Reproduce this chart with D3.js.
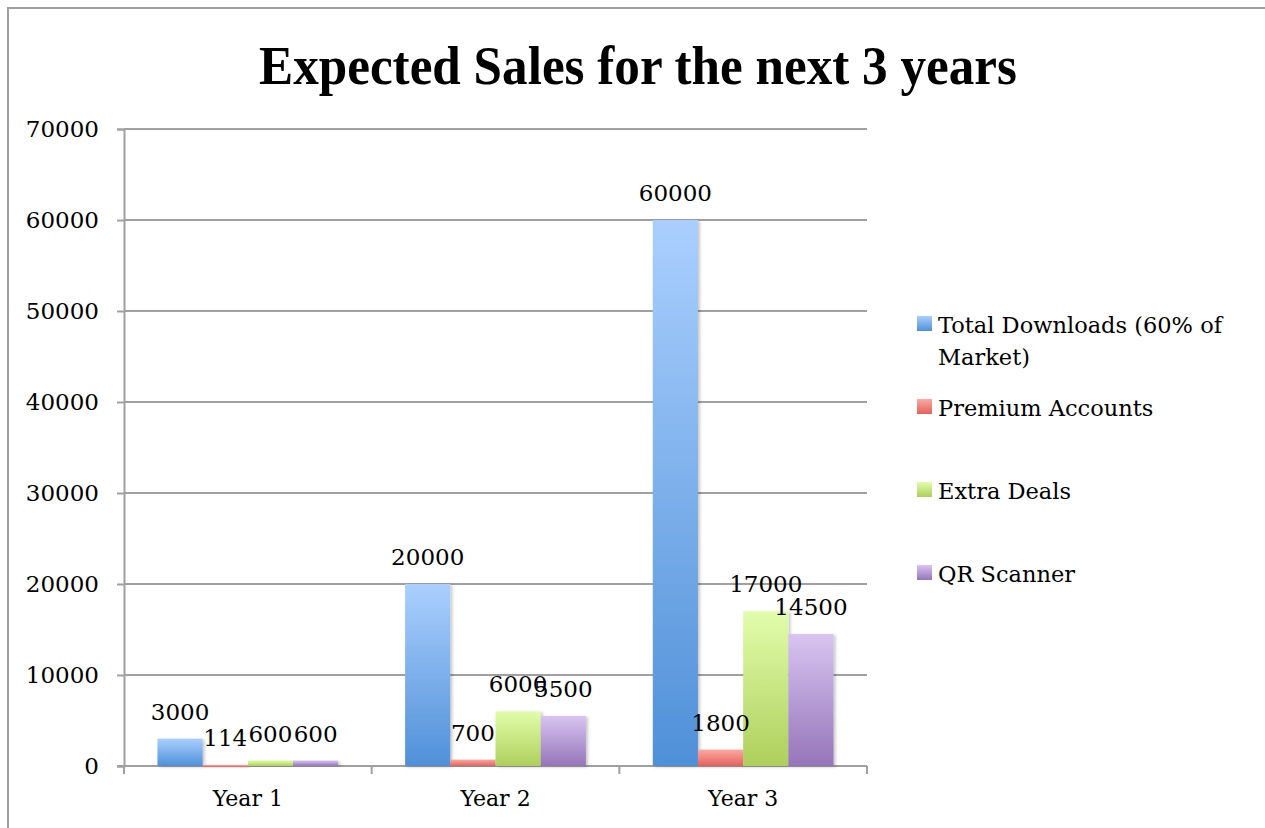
<!DOCTYPE html>
<html>
<head>
<meta charset="utf-8">
<script src="https://cdn.jsdelivr.net/npm/d3@7"></script>
<style>
  body { margin: 0; background: #fff; }
  text { font-family: "DejaVu Serif", serif; fill: #000; }
</style>
</head>
<body>
<div id="chart"></div>
<script>
// Data
const years = ["Year 1", "Year 2", "Year 3"];
const seriesNames = ["Total Downloads (60% of Market)", "Premium Accounts", "Extra Deals", "QR Scanner"];
const downloads = [3000, 20000, 60000];
const premium = [114, 700, 1800];
const extraDeals = [600, 6000, 17000];
const qrScanner = [600, 5500, 14500];
const yTicks = [0, 10000, 20000, 30000, 40000, 50000, 60000, 70000];

const seriesValues = [downloads, premium, extraDeals, qrScanner];
const colors = [
  { top: "#aacffe", bottom: "#4f90d8" },
  { top: "#fba8a3", bottom: "#e4625b" },
  { top: "#e2fdab", bottom: "#aecf5c" },
  { top: "#d8c4f1", bottom: "#9575b9" }
];

const W = 1265, H = 828;
const plot = { left: 124, right: 867, top: 129, bottom: 766 };

const svg = d3.select("#chart").append("svg")
  .attr("width", W).attr("height", H);

const defs = svg.append("defs");
colors.forEach((c, i) => {
  const g = defs.append("linearGradient")
    .attr("id", "grad" + i)
    .attr("x1", 0).attr("y1", 0).attr("x2", 0).attr("y2", 1);
  g.append("stop").attr("offset", "0%").attr("stop-color", c.top);
  g.append("stop").attr("offset", "100%").attr("stop-color", c.bottom);
});
const shadow = defs.append("filter").attr("id", "shadow")
  .attr("x", "-20%").attr("y", "-5%").attr("width", "150%").attr("height", "120%");
shadow.append("feDropShadow")
  .attr("dx", 2).attr("dy", 1).attr("stdDeviation", 1.5)
  .attr("flood-color", "#000").attr("flood-opacity", 0.22);

// outer frame
svg.append("rect")
  .attr("x", 8).attr("y", 8).attr("width", W + 20).attr("height", H + 20)
  .attr("fill", "none").attr("stroke", "#a0a0a0").attr("stroke-width", 2);

// title
svg.append("text")
  .attr("x", 638).attr("y", 84)
  .attr("text-anchor", "middle")
  .attr("textLength", 758).attr("lengthAdjust", "spacingAndGlyphs")
  .style("font-family", "'Liberation Serif', serif")
  .style("font-weight", "bold")
  .style("font-size", "54px")
  .text("Expected Sales for the next 3 years");

// scales
const y = d3.scaleLinear().domain([0, 70000]).range([plot.bottom, plot.top]);
const x0 = d3.scaleBand().domain(years).range([plot.left, plot.right]).padding(0);
const x1 = d3.scaleBand().domain(d3.range(seriesValues.length))
  .range([0, x0.bandwidth()]).paddingInner(0).paddingOuter(0.74);

// gridlines
svg.append("g")
  .selectAll("line")
  .data(yTicks.filter(d => d > 0))
  .join("line")
  .attr("x1", plot.left).attr("x2", plot.right)
  .attr("y1", d => y(d)).attr("y2", d => y(d))
  .attr("stroke", "#a0a0a0").attr("stroke-width", 2);

// y axis
const yAxis = svg.append("g")
  .attr("transform", `translate(${plot.left},0)`)
  .call(d3.axisLeft(y).tickValues(yTicks).tickFormat(d3.format("d")).tickSize(7).tickPadding(18));
yAxis.select(".domain").attr("stroke", "#a0a0a0").attr("stroke-width", 2);
yAxis.selectAll(".tick line").attr("stroke", "#a0a0a0").attr("stroke-width", 2);
yAxis.selectAll(".tick text")
  .style("font-family", "'DejaVu Serif', serif").style("font-size", "23px").attr("fill", "#000");

// x axis
const xAxis = svg.append("g")
  .attr("transform", `translate(0,${plot.bottom})`)
  .call(d3.axisBottom(x0).tickSize(0).tickPadding(24));
xAxis.select(".domain").remove();
xAxis.selectAll(".tick text")
  .style("font-family", "'DejaVu Serif', serif").style("font-size", "22px").attr("fill", "#000");
svg.append("line")
  .attr("x1", plot.left - 7).attr("x2", plot.right)
  .attr("y1", plot.bottom).attr("y2", plot.bottom)
  .attr("stroke", "#a0a0a0").attr("stroke-width", 2);
svg.append("g").selectAll("line")
  .data(years.map(d => x0(d)).concat([plot.right]))
  .join("line")
  .attr("x1", d => d).attr("x2", d => d)
  .attr("y1", plot.bottom).attr("y2", plot.bottom + 8)
  .attr("stroke", "#a0a0a0").attr("stroke-width", 2);

// bars
const barData = [];
years.forEach((yr, i) => {
  seriesValues.forEach((vals, s) => barData.push({ year: yr, s: s, value: vals[i] }));
});

svg.append("g")
  .selectAll("rect")
  .data(barData)
  .join("rect")
  .attr("x", d => x0(d.year) + x1(d.s))
  .attr("y", d => y(d.value))
  .attr("width", x1.bandwidth())
  .attr("height", d => Math.max(2, plot.bottom - y(d.value)))
  .attr("fill", d => `url(#grad${d.s})`)
  .attr("filter", "url(#shadow)");

// value labels
svg.append("g")
  .selectAll("text")
  .data(barData)
  .join("text")
  .attr("x", d => x0(d.year) + x1(d.s) + x1.bandwidth() / 2)
  .attr("y", d => y(d.value) - 19)
  .attr("text-anchor", "middle")
  .style("font-size", "23px")
  .text(d => d.value);

// legend
const legendY = [316, 399, 482, 565];
const legend = svg.append("g");
const items = legend.selectAll("g")
  .data(seriesNames)
  .join("g")
  .attr("transform", (d, i) => `translate(917,${legendY[i]})`);
items.append("rect")
  .attr("width", 15).attr("height", 15)
  .attr("fill", (d, i) => `url(#grad${i})`);
items.append("text")
  .attr("x", 21).attr("y", 17)
  .style("font-size", "22.5px")
  .each(function(d) {
    const lines = d === seriesNames[0] ? ["Total Downloads (60% of", "Market)"] : [d];
    d3.select(this).selectAll("tspan")
      .data(lines)
      .join("tspan")
      .attr("x", 21)
      .attr("dy", (l, j) => j === 0 ? 0 : 32)
      .text(l => l);
  });
</script>
</body>
</html>
